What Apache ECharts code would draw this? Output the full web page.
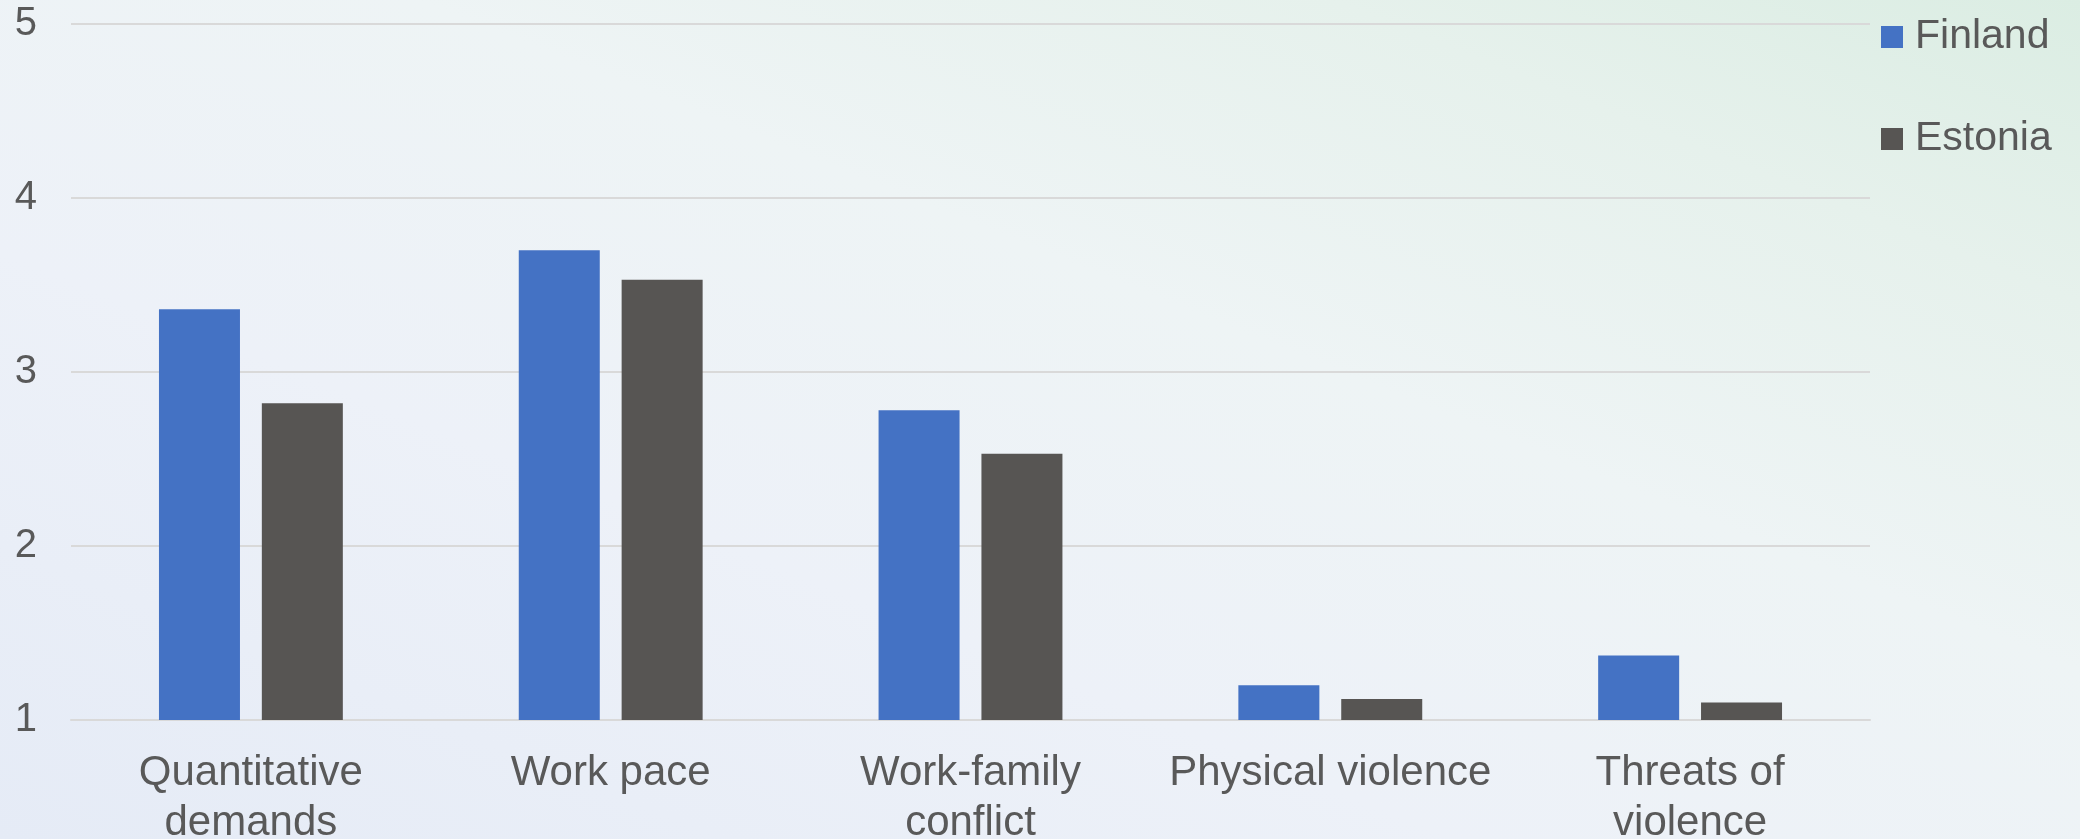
<!DOCTYPE html>
<html>
<head>
<meta charset="utf-8">
<script src="https://cdn.jsdelivr.net/npm/echarts@6/dist/echarts.min.js"></script>
<style>
  html, body { margin: 0; padding: 0; }
  #chart {
    width: 2080px; height: 839px;
    background: linear-gradient(to top right, #e5ebf6 0%, #edf1f8 35%, #eef4f5 60%, #e6f1ec 82%, #dbede3 100%);
  }
</style>
</head>
<body>
<div id="chart"></div>
<script>
// Mean scores of psychosocial risk factors, Finland vs Estonia (scale 1–5)
const categories = ['Quantitative\ndemands', 'Work pace', 'Work-family\nconflict', 'Physical violence', 'Threats of\nviolence'];
const finland = [3.36, 3.70, 2.78, 1.20, 1.37];
const estonia = [2.82, 3.53, 2.53, 1.12, 1.10];
const seriesNames = ['Finland', 'Estonia'];
const yTicks = { min: 1, max: 5, interval: 1 };

const textColor = '#595959';
const font = 'Liberation Sans, Arial, sans-serif';

const chart = echarts.init(document.getElementById('chart'), null, { renderer: 'canvas' });
chart.setOption({
  backgroundColor: 'transparent',
  animation: false,
  grid: { left: 71, right: 210, top: 24, bottom: 119, containLabel: false, outerBoundsMode: 'none' },
  legend: {
    orient: 'vertical',
    left: 1881,
    top: 15,
    padding: 0,
    itemWidth: 22,
    itemHeight: 22,
    itemGap: 58,
    icon: 'rect',
    textStyle: { color: textColor, fontSize: 41, fontFamily: font, lineHeight: 44, padding: [0, 0, 0, 7] },
    data: seriesNames
  },
  xAxis: {
    type: 'category',
    data: categories,
    axisLine: { show: true, lineStyle: { color: '#d9d9d9', width: 2 } },
    axisTick: { show: false },
    axisLabel: { color: textColor, fontSize: 42, fontFamily: font, lineHeight: 50, margin: 28, interval: 0 }
  },
  yAxis: {
    type: 'value',
    min: yTicks.min,
    max: yTicks.max,
    interval: yTicks.interval,
    axisLine: { show: false },
    axisTick: { show: false },
    splitLine: { lineStyle: { color: '#d9d9d9', width: 2 } },
    axisLabel: { color: textColor, fontSize: 40, fontFamily: font, margin: 34 }
  },
  series: [
    { name: seriesNames[0], type: 'bar', data: finland, barWidth: 81, barGap: '27%',
      itemStyle: { color: '#4472c4' } },
    { name: seriesNames[1], type: 'bar', data: estonia, barWidth: 81, barGap: '27%',
      itemStyle: { color: '#575553' } }
  ]
});
</script>
</body>
</html>
